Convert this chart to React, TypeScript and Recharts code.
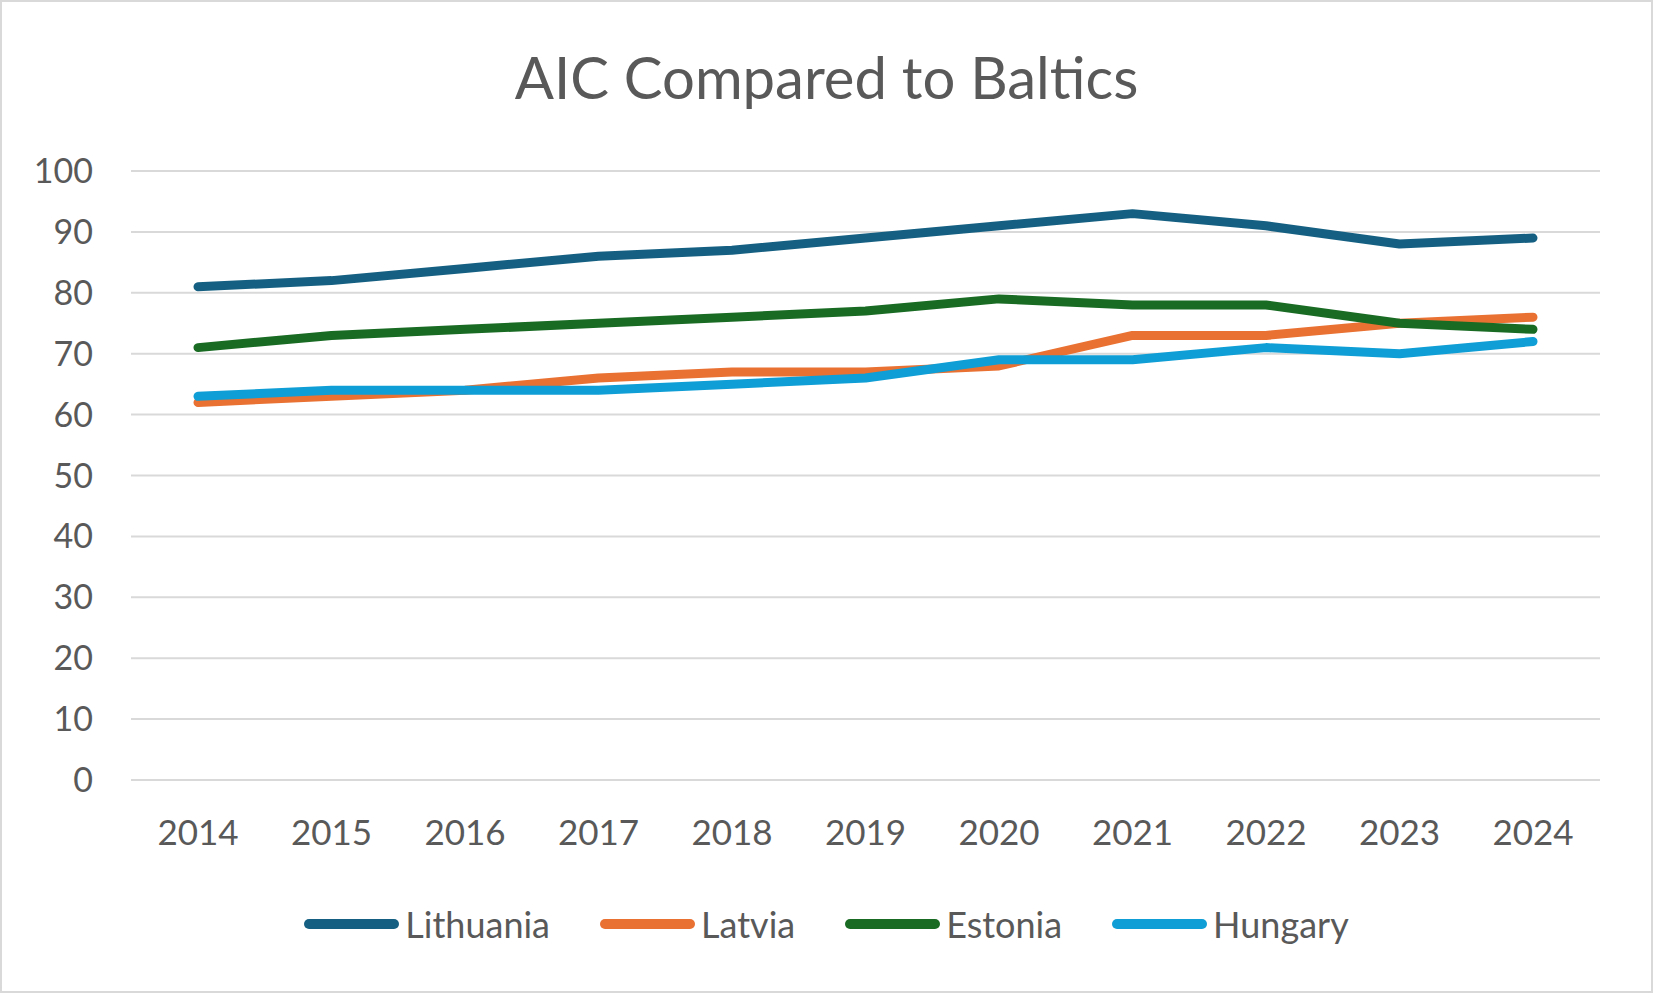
import React from "react";
import {
  LineChart,
  Line,
  XAxis,
  YAxis,
  CartesianGrid,
  Legend,
} from "recharts";

const years = ["2014", "2015", "2016", "2017", "2018", "2019", "2020", "2021", "2022", "2023", "2024"];
const lithuania = [81, 82, 84, 86, 87, 89, 91, 93, 91, 88, 89];
const latvia = [62, 63, 64, 66, 67, 67, 68, 73, 73, 75, 76];
const estonia = [71, 73, 74, 75, 76, 77, 79, 78, 78, 75, 74];
const hungary = [63, 64, 64, 64, 65, 66, 69, 69, 71, 70, 72];
const yTicks = [0, 10, 20, 30, 40, 50, 60, 70, 80, 90, 100];

const series = [
  { key: "Lithuania", color: "#156082" },
  { key: "Latvia", color: "#E97132" },
  { key: "Estonia", color: "#196B24" },
  { key: "Hungary", color: "#0F9ED5" },
];

const data = years.map((year, i) => ({
  year,
  Lithuania: lithuania[i],
  Latvia: latvia[i],
  Estonia: estonia[i],
  Hungary: hungary[i],
}));

const FONT = "Lato, 'Open Sans', sans-serif";
const TEXT = "#595959";

const LegendContent = () => (
  <div
    style={{
      display: "flex",
      justifyContent: "center",
      alignItems: "center",
      height: 40,
      fontFamily: FONT,
      fontSize: 36,
      color: TEXT,
    }}
  >
    {series.map((s) => (
      <div key={s.key} style={{ display: "flex", alignItems: "center", margin: "0 25px" }}>
        <div
          style={{
            width: 95,
            height: 10,
            borderRadius: 5,
            background: s.color,
            marginRight: 6,
          }}
        />
        <span>{s.key}</span>
      </div>
    ))}
  </div>
);

const App: React.FC = () => {
  return (
    <div
      style={{
        position: "absolute",
        left: 0,
        top: 0,
        width: 1653,
        height: 993,
        boxSizing: "border-box",
        border: "2px solid #d9d9d9",
        background: "#fff",
      }}
    >
      <div
        style={{
          position: "absolute",
          top: 43,
          left: 0,
          width: "100%",
          textAlign: "center",
          fontFamily: FONT,
          fontSize: 58,
          color: TEXT,
          lineHeight: "64px",
        }}
      >
        AIC Compared to Baltics
      </div>
      <div style={{ position: "absolute", left: -2, top: -2 }}>
        <LineChart
          width={1653}
          height={993}
          data={data}
          margin={{ top: 171, right: 53, left: 0, bottom: 83 }}
        >
          <CartesianGrid vertical={false} stroke="#d9d9d9" strokeWidth={2} />
          <XAxis
            dataKey="year"
            padding={{ left: 67, right: 67 }}
            axisLine={{ stroke: "#d9d9d9", strokeWidth: 2 }}
            tickLine={false}
            tickSize={0}
            tickMargin={40}
            height={90}
            tick={{ fill: TEXT, fontSize: 35, fontFamily: FONT }}
          />
          <YAxis
            domain={[0, 100]}
            ticks={yTicks}
            axisLine={false}
            tickLine={false}
            tickSize={0}
            tickMargin={38}
            width={131}
            tick={{ fill: TEXT, fontSize: 34, fontFamily: FONT }}
          />
          <Legend
            content={<LegendContent />}
            verticalAlign="bottom"
            wrapperStyle={{ top: 904, bottom: "auto", left: 0, width: 1653, height: 40 }}
          />
          {series.map((s) => (
            <Line
              key={s.key}
              type="linear"
              dataKey={s.key}
              stroke={s.color}
              strokeWidth={9}
              strokeLinecap="round"
              strokeLinejoin="round"
              dot={false}
              activeDot={false}
              isAnimationActive={false}
            />
          ))}
        </LineChart>
      </div>
    </div>
  );
};

export default App;
